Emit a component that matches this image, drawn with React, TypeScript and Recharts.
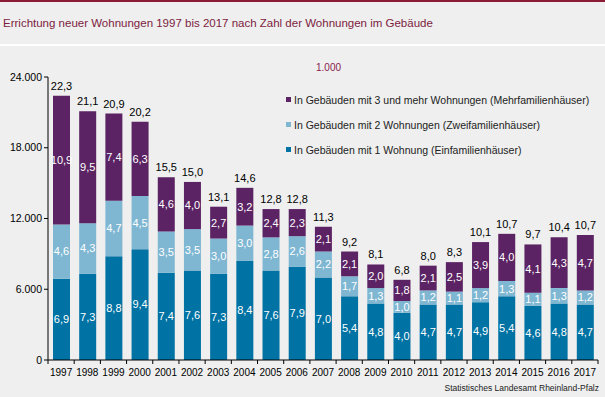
import { BarChart, Bar, XAxis, YAxis, LabelList } from "recharts";

const jahre = ["1997", "1998", "1999", "2000", "2001", "2002", "2003", "2004", "2005", "2006", "2007", "2008", "2009", "2010", "2011", "2012", "2013", "2014", "2015", "2016", "2017"];
// Werte in 1.000 Wohnungen
const einFamilie = [6.9, 7.3, 8.8, 9.4, 7.4, 7.6, 7.3, 8.4, 7.6, 7.9, 7.0, 5.4, 4.8, 4.0, 4.7, 4.7, 4.9, 5.4, 4.6, 4.8, 4.7];
const zweiFamilie = [4.6, 4.3, 4.7, 4.5, 3.5, 3.5, 3.0, 3.0, 2.8, 2.6, 2.2, 1.7, 1.3, 1.0, 1.2, 1.1, 1.2, 1.3, 1.1, 1.3, 1.2];
const mehrFamilie = [10.9, 9.5, 7.4, 6.3, 4.6, 4.0, 2.7, 3.2, 2.4, 2.3, 2.1, 2.1, 2.0, 1.8, 2.1, 2.5, 3.9, 4.0, 4.1, 4.3, 4.7];
const insgesamt = [22.3, 21.1, 20.9, 20.2, 15.5, 15.0, 13.1, 14.6, 12.8, 12.8, 11.3, 9.2, 8.1, 6.8, 8.0, 8.3, 10.1, 10.7, 9.7, 10.4, 10.7];
const yTicks = [0, 6, 12, 18, 24];

const serien = [
  { key: "mehr", name: "In Gebäuden mit 3 und mehr Wohnungen (Mehrfamilienhäuser)", color: "#5b2363" },
  { key: "zwei", name: "In Gebäuden mit 2 Wohnungen (Zweifamilienhäuser)", color: "#7fb7d3" },
  { key: "ein", name: "In Gebäuden mit 1 Wohnung (Einfamilienhäuser)", color: "#0072a3" },
];

const data = jahre.map((j, i) => ({
  jahr: j,
  ein: einFamilie[i],
  zwei: zweiFamilie[i],
  mehr: mehrFamilie[i],
  total: insgesamt[i],
}));

const FONT = "'Liberation Sans', Arial, sans-serif";
const W = 605;
const H = 397;
const LEFT = 48;
const RIGHT = 7;
const PITCH = (W - LEFT - RIGHT) / jahre.length;

const fmt = (v: number) => v.toFixed(1).replace(".", ",");

// Striche zwischen den Jahren, nicht in der Mitte
function JahrTick(props: any) {
  const { x, y, payload, index } = props;
  const x0 = x - PITCH / 2;
  return (
    <g>
      <line x1={x0} x2={x0} y1={y} y2={y + 4} stroke="#000" strokeWidth={1} />
      {index === jahre.length - 1 && (
        <line x1={x + PITCH / 2} x2={x + PITCH / 2} y1={y} y2={y + 4} stroke="#000" strokeWidth={1} />
      )}
      <text x={x} y={y + 16} textAnchor="middle" fontSize={10} fill="#000" fontFamily={FONT}>
        {payload.value}
      </text>
    </g>
  );
}

function Legende() {
  return (
    <div style={{ fontFamily: FONT, fontSize: 10.5, color: "#222" }}>
      {serien.map((s) => (
        <div key={s.key} style={{ display: "flex", alignItems: "center", height: 25 }}>
          <span style={{ width: 5, height: 5, background: s.color, marginRight: 3, display: "inline-block" }} />
          <span>{s.name}</span>
        </div>
      ))}
    </div>
  );
}

export default function App() {
  return (
    <div style={{ position: "absolute", left: 0, top: 0, width: W, height: H, background: "#eeefee", overflow: "hidden" }}>
      <div style={{ position: "absolute", left: 0, top: 0, width: W, height: 2, background: "#8b1a35" }} />
      <div style={{ position: "absolute", left: 0, top: 44, width: W, height: 2, background: "#ffffff" }} />
      <div style={{ position: "absolute", left: 3, top: 17, fontFamily: FONT, fontSize: 11.5, color: "#7d1d3f", whiteSpace: "nowrap" }}>
        Errichtung neuer Wohnungen 1997 bis 2017 nach Zahl der Wohnungen im Gebäude
      </div>
      <div style={{ position: "absolute", left: 316, top: 62, fontFamily: FONT, fontSize: 10, color: "#8b1a50" }}>
        1.000
      </div>
      <div style={{ position: "absolute", right: 6, top: 383, fontFamily: FONT, fontSize: 8.5, color: "#222" }}>
        Statistisches Landesamt Rheinland-Pfalz
      </div>
      <div style={{ position: "absolute", left: 0, top: 0 }}>
        <BarChart width={W} height={H} data={data} margin={{ top: 77, right: RIGHT, left: 0, bottom: 7 }} barSize={17}>
          <XAxis
            dataKey="jahr"
            axisLine={{ stroke: "#000" }}
            tickLine={false}
            tickSize={0}
            tickMargin={0}
            tick={<JahrTick />}
            interval={0}
            height={30}
          />
          <YAxis
            domain={[0, 24]}
            ticks={yTicks}
            width={LEFT}
            axisLine={{ stroke: "#000" }}
            tickLine={{ stroke: "#000" }}
            tickSize={4}
            tick={{ fontSize: 10.5, fill: "#000", fontFamily: FONT }}
            tickFormatter={(v: number) => (v * 1000).toLocaleString("de-DE")}
          />
          <Bar dataKey="ein" stackId="a" fill="#0072a3" isAnimationActive={false}>
            <LabelList dataKey="ein" position="center" fill="#fff" fontSize={11} fontFamily={FONT} formatter={(v: any) => fmt(v)} />
          </Bar>
          <Bar dataKey="zwei" stackId="a" fill="#7fb7d3" isAnimationActive={false}>
            <LabelList dataKey="zwei" position="center" fill="#fff" fontSize={11} fontFamily={FONT} formatter={(v: any) => fmt(v)} />
          </Bar>
          <Bar dataKey="mehr" stackId="a" fill="#5b2363" isAnimationActive={false}>
            <LabelList dataKey="mehr" position="center" fill="#fff" fontSize={11} fontFamily={FONT} formatter={(v: any) => fmt(v)} />
            <LabelList dataKey="total" position="top" offset={6} fill="#000" fontSize={11} fontFamily={FONT} formatter={(v: any) => fmt(v)} />
          </Bar>
        </BarChart>
      </div>
      <div style={{ position: "absolute", left: 286, top: 87 }}>
        <Legende />
      </div>
    </div>
  );
}
